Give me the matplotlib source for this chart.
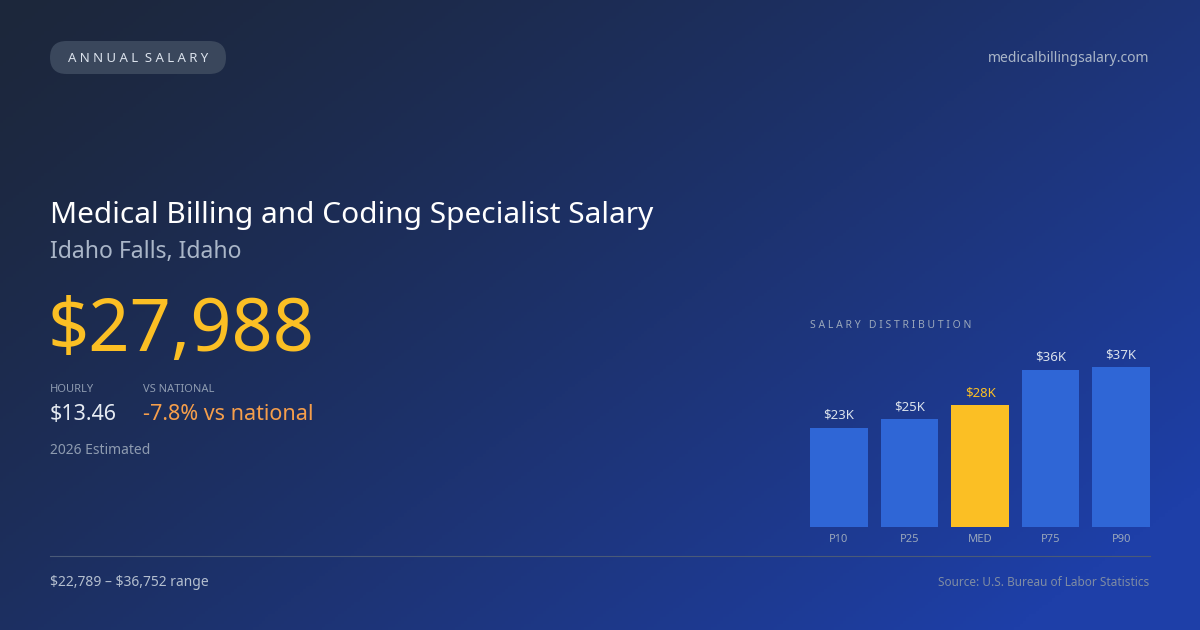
import numpy as np
import matplotlib.pyplot as plt
from matplotlib.patches import FancyBboxPatch

plt.rcParams['font.family'] = ['Noto Sans', 'DejaVu Sans']
plt.rcParams['text.parse_math'] = False

labels = ["P10", "P25", "MED", "P75", "P90"]
values = [22789, 24800, 27988, 36100, 36752]
value_labels = ["$23K", "$25K", "$28K", "$36K", "$37K"]

W, H = 1200, 630
fig = plt.figure(figsize=(W / 100, H / 100), dpi=100)

# background gradient
bg = fig.add_axes([0, 0, 1, 1])
yy, xx = np.mgrid[0:1:200j, 0:1:380j]
t = np.clip(xx * 0.65 + yy * 0.45, 0, 1)
c0 = np.array([0x1c, 0x27, 0x3b]) / 255
c1 = np.array([0x1e, 0x3f, 0xa8]) / 255
img = c0 + (c1 - c0) * t[..., None] ** 1.3
bg.imshow(img, extent=[0, W, H, 0], aspect='auto')
bg.set_xlim(0, W)
bg.set_ylim(H, 0)
bg.axis('off')

def txt(x, y, s, size, color, **kw):
    bg.text(x, y, s, fontsize=size, color=color, va='center', **kw)

# pill
bg.add_patch(FancyBboxPatch((50, 41), 176, 33, boxstyle="round,pad=0,rounding_size=16.5",
                            fc='#3a475c', ec='none'))
txt(138, 58, "A N N U A L  S A L A R Y", 9.5, '#dbe2ec', ha='center')
txt(1149, 58, "medicalbillingsalary.com", 10, '#aab6c8', ha='right')

txt(50, 215, "Medical Billing and Coding Specialist Salary", 21.5, 'white')
txt(50, 252, "Idaho Falls, Idaho", 16.5, '#aab6c8')
txt(48, 332, "$27,988", 52, '#fbbf24')
txt(50, 389, "HOURLY", 8, '#8e9bb0')
txt(143, 389, "VS NATIONAL", 8, '#8e9bb0')
txt(50, 414, "$13.46", 15.5, '#e6ebf2')
txt(143, 414, "-7.8% vs national", 15.5, '#f59e4b')
txt(50, 450, "2026 Estimated", 10, '#8e9bb0')
txt(810, 326, "S A L A R Y   D I S T R I B U T I O N", 7.5, '#9aa7bb')
bg.plot([50, 1150], [556, 556], color='#4a5a78', lw=0.8)
txt(50, 582, "$22,789 \u2013 $36,752 range", 10, '#b4bfcf')
txt(1149, 582, "Source: U.S. Bureau of Labor Statistics", 8.5, '#7f8ca3', ha='right')

# bar chart
ax = fig.add_axes([810 / W, (H - 527) / H, 340 / W, 174 / H])
ax.set_xlim(-0.41, 4.41)
ax.set_ylim(0, 40000)
ax.axis('off')
for i, (v, vl) in enumerate(zip(values, value_labels)):
    col = '#fbbf24' if labels[i] == "MED" else '#2f66d6'
    ax.bar(i, v, width=0.82, color=col)
    ax.text(i, v + 1400, vl, ha='center', va='bottom', fontsize=9.5,
            color='#fbbf24' if labels[i] == "MED" else '#dbe2ec')
    ax.text(i, -2800, labels[i], ha='center', va='center', fontsize=8, color='#9aa7bb')

fig.savefig("out.png", dpi=100)
